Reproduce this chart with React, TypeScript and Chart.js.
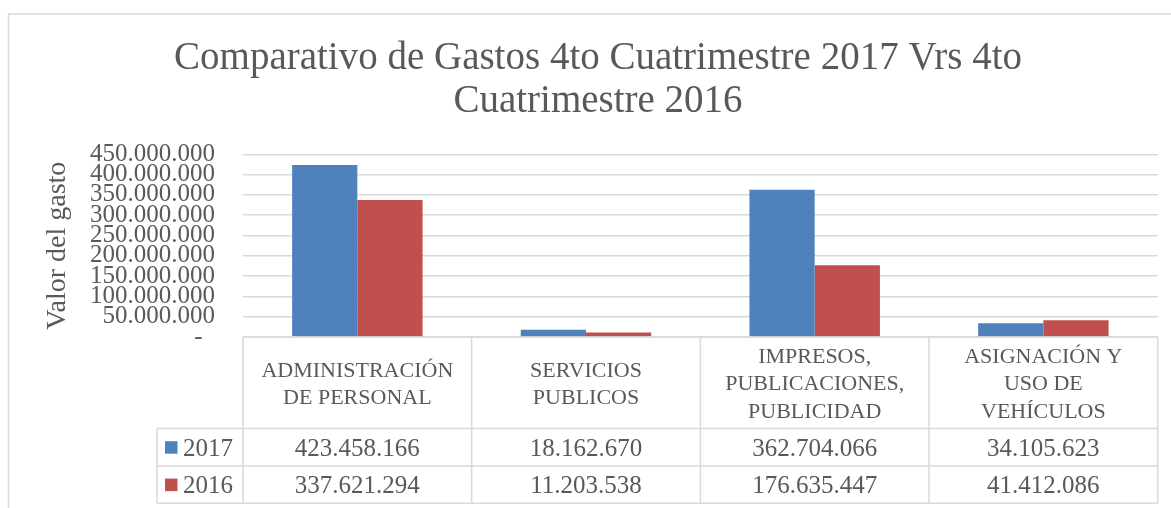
import React, { useEffect, useRef } from "react";
import { Chart, registerables } from "chart.js";

Chart.register(...registerables);

const categoryLines: string[][] = [
  ["ADMINISTRACIÓN", "DE PERSONAL"],
  ["SERVICIOS", "PUBLICOS"],
  ["IMPRESOS,", "PUBLICACIONES,", "PUBLICIDAD"],
  ["ASIGNACIÓN Y", "USO DE", "VEHÍCULOS"],
];
const categories = categoryLines.map((l) => l.join(" "));
const values2017 = [423458166, 18162670, 362704066, 34105623];
const values2016 = [337621294, 11203538, 176635447, 41412086];
const seriesNames = ["2017", "2016"];
const yTickMax = 450000000;
const yTickStep = 50000000;

const TEXT = "#595959";
const LINE = "#D9D9D9";
const BLUE = "#4F81BD";
const RED = "#C0504D";
const FONT = "'Liberation Serif', 'Times New Roman', serif";

function fmt(n: number): string {
  return Math.round(n)
    .toString()
    .replace(/\B(?=(\d{3})+(?!\d))/g, ".");
}

const frameBorder = {
  id: "frameBorder",
  beforeDraw(chart: any) {
    const { ctx, width, height } = chart;
    ctx.save();
    ctx.fillStyle = "#ffffff";
    ctx.fillRect(0, 0, width, height);
    ctx.strokeStyle = LINE;
    ctx.lineWidth = 1.5;
    ctx.beginPath();
    ctx.moveTo(8.5, height);
    ctx.lineTo(8.5, 14);
    ctx.lineTo(width, 14);
    ctx.stroke();
    ctx.restore();
  },
};

const dataTable = {
  id: "dataTable",
  afterDraw(chart: any) {
    const { ctx, chartArea } = chart;
    const x = chart.scales.x;
    const n = categories.length;
    const w = (x.right - x.left) / n;
    const top = chartArea.bottom;
    const headerH = 91.5;
    const rowH = 37.4;
    const rowsTop = top + headerH;
    const bottom = rowsTop + rowH * 2;
    const legendLeft = chartArea.left - 86;
    const right = x.right;

    ctx.save();
    ctx.strokeStyle = LINE;
    ctx.lineWidth = 1.5;
    ctx.beginPath();
    ctx.moveTo(chartArea.left, top);
    ctx.lineTo(right, top);
    for (let r = 0; r <= 2; r++) {
      const y = rowsTop + r * rowH;
      ctx.moveTo(legendLeft, y);
      ctx.lineTo(right, y);
    }
    for (let i = 0; i <= n; i++) {
      const xx = x.left + i * w;
      ctx.moveTo(xx, top);
      ctx.lineTo(xx, bottom);
    }
    ctx.moveTo(legendLeft, rowsTop);
    ctx.lineTo(legendLeft, bottom);
    ctx.stroke();

    ctx.fillStyle = TEXT;
    ctx.font = `22px ${FONT}`;
    ctx.textAlign = "center";
    ctx.textBaseline = "alphabetic";
    const headerMid = top + headerH / 2 + 7.5;
    const lh = 27.5;
    categoryLines.forEach((lines, i) => {
      const cx = x.getPixelForValue(i);
      lines.forEach((line, j) => {
        const y = headerMid + (j - (lines.length - 1) / 2) * lh;
        ctx.fillText(line, cx, y);
      });
    });

    const series = [values2017, values2016];
    const colors = [BLUE, RED];
    ctx.font = `25px ${FONT}`;
    series.forEach((vals, r) => {
      const cy = rowsTop + r * rowH + rowH / 2;
      ctx.fillStyle = TEXT;
      ctx.textAlign = "center";
      vals.forEach((v, i) => {
        ctx.fillText(fmt(v), x.getPixelForValue(i), cy + 8.5);
      });
      ctx.fillStyle = colors[r];
      ctx.fillRect(legendLeft + 8, cy - 6, 12.5, 12.5);
      ctx.fillStyle = TEXT;
      ctx.textAlign = "left";
      ctx.fillText(seriesNames[r], legendLeft + 26, cy + 8.5);
    });
    ctx.restore();
  },
};

export default function App() {
  const ref = useRef<HTMLCanvasElement>(null);

  useEffect(() => {
    if (!ref.current) return;
    const chart = new Chart(ref.current, {
      type: "bar",
      data: {
        labels: categories,
        datasets: [
          {
            label: seriesNames[0],
            data: values2017,
            backgroundColor: BLUE,
            categoryPercentage: 0.5705,
            barPercentage: 1.0,
          },
          {
            label: seriesNames[1],
            data: values2016,
            backgroundColor: RED,
            categoryPercentage: 0.5705,
            barPercentage: 1.0,
          },
        ],
      },
      options: {
        responsive: false,
        animation: false,
        layout: { padding: { left: 38.3, right: 13.3, top: 0, bottom: 171 } },
        plugins: {
          legend: { display: false },
          tooltip: { enabled: false },
          title: {
            display: true,
            text: ["Comparativo de Gastos 4to Cuatrimestre 2017 Vrs 4to", "Cuatrimestre 2016"],
            color: TEXT,
            font: { family: FONT, size: 39, weight: "normal", lineHeight: 43 / 39 },
            padding: { top: 37.3, bottom: 31 },
          },
        },
        scales: {
          x: {
            display: false,
            grid: { display: false },
          },
          y: {
            min: 0,
            max: yTickMax,
            afterFit: (scale: any) => {
              scale.width = 204.7;
            },
            border: { display: false },
            grid: { color: LINE, lineWidth: 1.5, drawTicks: false },
            ticks: {
              stepSize: yTickStep,
              autoSkip: false,
              padding: 28,
              color: TEXT,
              font: { family: FONT, size: 25 },
              callback: (v: any) => (Number(v) === 0 ? "-  " : fmt(Number(v))),
            },
            title: {
              display: true,
              text: "Valor del gasto",
              color: TEXT,
              font: { family: FONT, size: 28 },
              padding: { top: 2.4, bottom: 0 },
            },
          },
        },
      },
      plugins: [frameBorder, dataTable],
    });
    return () => chart.destroy();
  }, []);

  return (
    <div style={{ position: "fixed", left: 0, top: 0, width: 1171, height: 508 }}>
      <canvas ref={ref} width={1171} height={508} style={{ display: "block" }} />
    </div>
  );
}
